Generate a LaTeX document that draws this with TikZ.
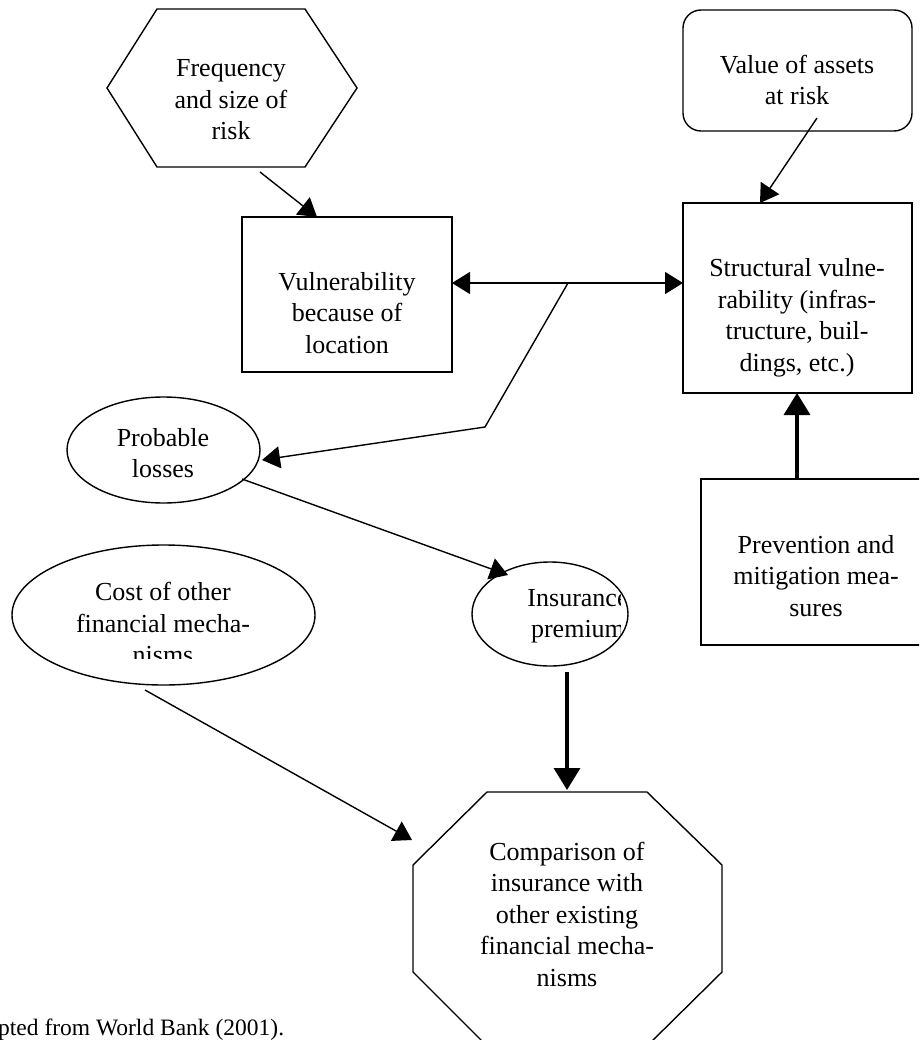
\documentclass[tikz,border=0pt]{standalone}
\usepackage{fontspec}
\setmainfont{Liberation Serif}
\usetikzlibrary{arrows.meta,shapes.geometric}
\begin{document}
\begin{tikzpicture}[x=1pt,y=-1pt,
  lbl/.style={font=\fontsize{26}{31.5}\selectfont, align=center, inner sep=0pt},
  shp/.style={draw, line width=1.4pt, inner sep=0pt},
  thinarrow/.style={line width=1.4pt, -{Triangle[length=18pt,width=22pt]}},
  thickarrow/.style={line width=3.6pt, -{Triangle[length=22pt,width=26pt]}}]
\useasboundingbox (0,0) rectangle (919,1040);
\clip (0,0) rectangle (919,1040);

% shapes
\draw[shp] (107,88) -- (157,9) -- (305,9) -- (357,88) -- (305,167) -- (157,167) -- cycle;
\node[lbl] (freq) at (231,100) {Frequency\\and size of\\risk};

\node[shp, rectangle, minimum width=210, minimum height=155] (vuln) at (347,294.5) {};
\node[lbl] (vulnT) at (347,313) {Vulnerability\\because of\\location};

\node[shp, rectangle, rounded corners=18pt, minimum width=229, minimum height=121] (value) at (797.5,70.5) {};
\node[lbl] (valueT) at (797,80) {Value of assets\\at risk};

\node[shp, rectangle, minimum width=229, minimum height=190] (struct) at (797.5,298) {};
\node[lbl] (structT) at (797,318) {Structural vulne-\\rability (infras-\\tructure, buil-\\dings, etc.)};

\node[shp, rectangle, minimum width=240, minimum height=166] (prev) at (821,562) {};
\node[lbl] (prevT) at (816,576) {Prevention and\\mitigation mea-\\sures};

\node[shp, ellipse, minimum width=193, minimum height=106] (prob) at (163.5,450) {};
\node[lbl] (probT) at (163,453) {Probable\\losses};

\node[shp, ellipse, minimum width=156, minimum height=104] (ins) at (550,614) {};
\begin{scope}
  \clip (470,560) rectangle (620,670);
  \node[lbl] (insT) at (578,616) {Insurance\\premium};
\end{scope}

\node[shp, ellipse, minimum width=303, minimum height=140] (cost) at (163.5,615) {};
\begin{scope}
  \clip (0,540) rectangle (330,658);
  \node[lbl] (costT) at (163,623) {Cost of other\\financial mecha-\\nisms};
\end{scope}

\draw[shp] (487,792) -- (647,792) -- (722,865) -- (722,972) -- (647,1046) -- (487,1046) -- (413,972) -- (413,865) -- cycle;
\node[lbl] (compT) at (567,914) {Comparison of\\insurance with\\other existing\\financial mecha-\\nisms};

\node[font=\fontsize{23.5}{28}\selectfont, anchor=base west, inner sep=0pt] (src) at (-2,1035) {pted from World Bank (2001).};

% connector end points
\coordinate (fa) at (260,172);
\coordinate (fb) at (317,217);
\coordinate (va) at (817,118);
\coordinate (vb) at (760,203);
\coordinate (dl) at (452,283);
\coordinate (dr) at (683,283);
\coordinate (br) at (568,283);
\coordinate (bk) at (485,427);
\coordinate (pl) at (262,460);
\coordinate (pa) at (242,479);
\coordinate (ia) at (508,575);
\coordinate (ib) at (567,672);
\coordinate (ot) at (567,790);
\coordinate (pt) at (797,479);
\coordinate (sb) at (797,393);
\coordinate (ca) at (145,690);
\coordinate (cb) at (412,840);

% connectors
\draw[thinarrow] (fa) -- (fb);
\draw[thinarrow] (va) -- (vb);
\draw[line width=1.4pt, {Triangle[length=18pt,width=22pt]}-{Triangle[length=18pt,width=22pt]}] (dl) -- (dr);
\draw[thinarrow] (br) -- (bk) -- (pl);
\draw[thinarrow] (pa) -- (ia);
\draw[thickarrow] (ib) -- (ot);
\draw[thickarrow] (pt) -- (sb);
\draw[thinarrow] (ca) -- (cb);
\end{tikzpicture}
\end{document}
